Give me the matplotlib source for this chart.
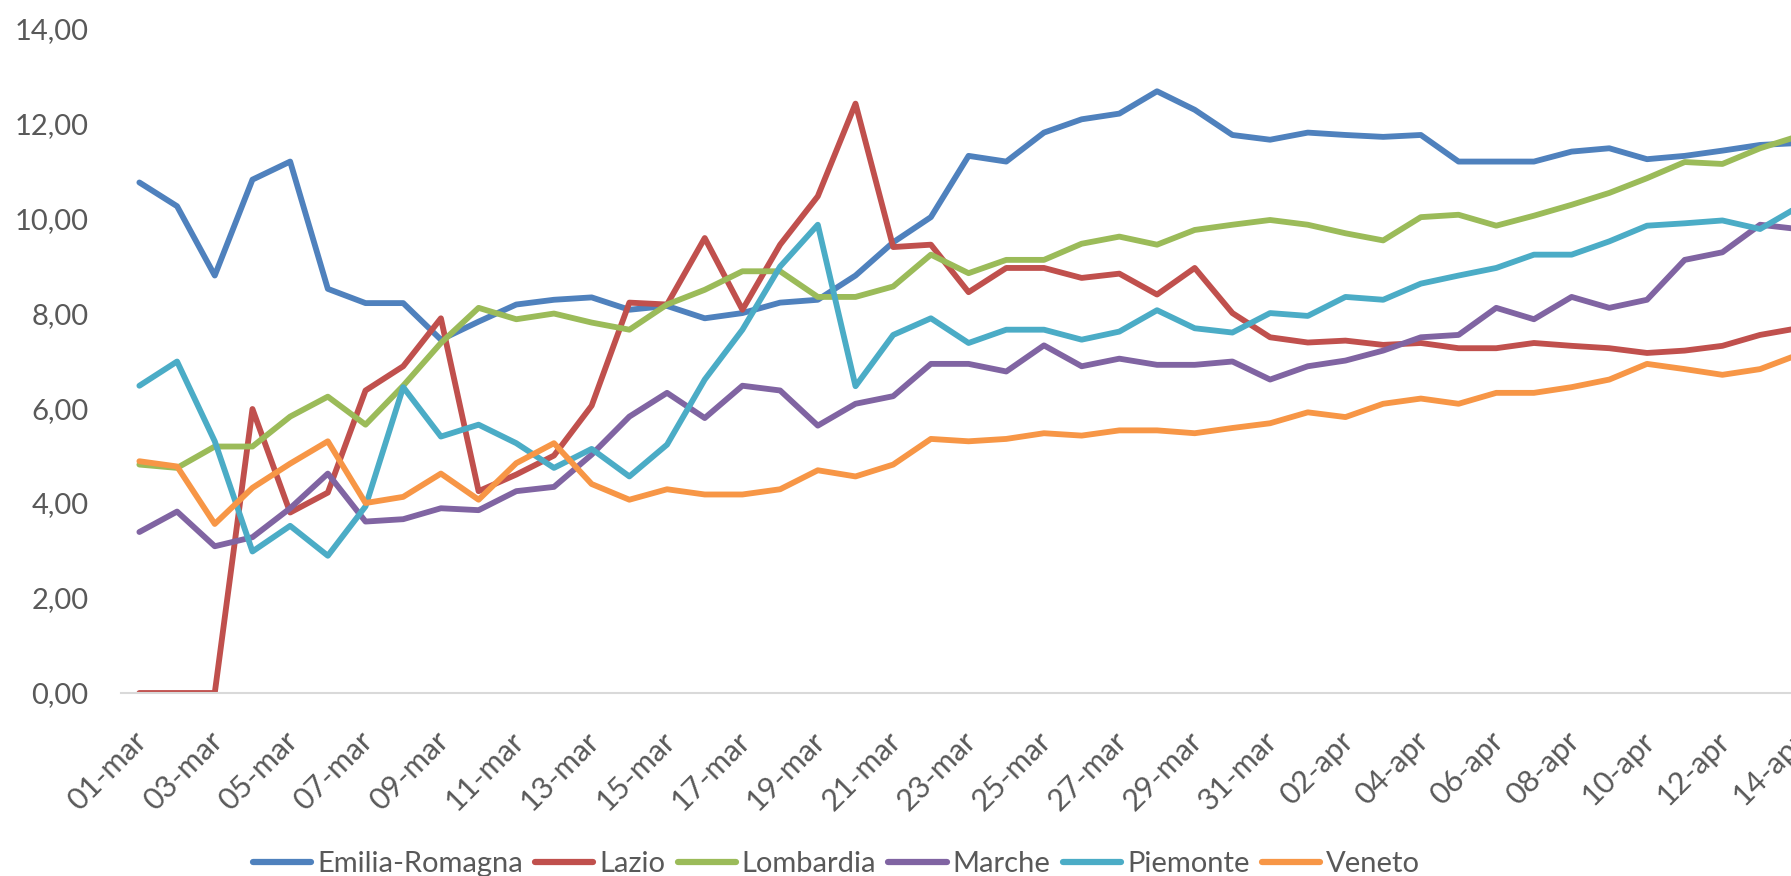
import numpy as np
import pandas as pd
import matplotlib
matplotlib.use("Agg")
import matplotlib.pyplot as plt
from matplotlib.ticker import FuncFormatter
from matplotlib.transforms import ScaledTranslation

plt.rcParams['font.family'] = ['Lato', 'DejaVu Sans']

# categories: 01-mar .. 14-apr (one point per day)
days = pd.date_range('2020-03-01', '2020-04-14', freq='D')
month_it = {3: 'mar', 4: 'apr'}
day_labels = [f"{d.day:02d}-{month_it[d.month]}" for d in days]

emilia = [10.75, 10.25, 8.79, 10.81, 11.19, 8.51, 8.21, 8.21, 7.44, 7.82,
          8.18, 8.28, 8.33, 8.07, 8.15, 7.89, 8.00, 8.22, 8.28, 8.79,
          9.49, 10.02, 11.31, 11.19, 11.80, 12.08, 12.20, 12.67, 12.28, 11.75,
          11.65, 11.80, 11.75, 11.71, 11.75, 11.19, 11.19, 11.19, 11.40, 11.47,
          11.24, 11.31, 11.42, 11.54, 11.58]
lazio = [0.00, 0.00, 0.00, 5.98, 3.80, 4.22, 6.37, 6.88, 7.89, 4.25,
         4.60, 5.00, 6.05, 8.22, 8.18, 9.58, 8.07, 9.44, 10.46, 12.41,
         9.39, 9.44, 8.44, 8.95, 8.95, 8.74, 8.83, 8.39, 8.95, 8.00,
         7.49, 7.38, 7.42, 7.33, 7.37, 7.26, 7.26, 7.37, 7.31, 7.26,
         7.16, 7.21, 7.31, 7.54, 7.68]
lombardia = [4.81, 4.74, 5.19, 5.19, 5.82, 6.24, 5.65, 6.47, 7.37, 8.11,
             7.87, 7.99, 7.80, 7.65, 8.18, 8.49, 8.88, 8.88, 8.34, 8.34,
             8.56, 9.23, 8.84, 9.12, 9.12, 9.46, 9.61, 9.44, 9.75, 9.86,
             9.96, 9.86, 9.68, 9.53, 10.02, 10.07, 9.84, 10.05, 10.28, 10.53,
             10.84, 11.18, 11.14, 11.47, 11.72]
marche = [3.39, 3.82, 3.09, 3.28, 3.89, 4.62, 3.61, 3.66, 3.89, 3.85,
          4.25, 4.34, 5.02, 5.82, 6.32, 5.79, 6.47, 6.37, 5.63, 6.09,
          6.25, 6.93, 6.93, 6.77, 7.32, 6.88, 7.04, 6.91, 6.91, 6.98,
          6.60, 6.88, 7.00, 7.21, 7.49, 7.54, 8.11, 7.87, 8.34, 8.11,
          8.28, 9.12, 9.28, 9.86, 9.77]
piemonte = [6.47, 6.98, 5.30, 2.98, 3.52, 2.89, 3.93, 6.44, 5.40, 5.65,
            5.26, 4.74, 5.14, 4.56, 5.23, 6.60, 7.65, 8.98, 9.86, 6.46,
            7.54, 7.89, 7.37, 7.65, 7.65, 7.44, 7.61, 8.06, 7.68, 7.59,
            8.00, 7.94, 8.34, 8.28, 8.62, 8.79, 8.95, 9.23, 9.23, 9.51,
            9.84, 9.89, 9.95, 9.77, 10.23]
veneto = [4.88, 4.77, 3.56, 4.32, 4.83, 5.30, 4.00, 4.13, 4.62, 4.07,
          4.84, 5.26, 4.40, 4.07, 4.29, 4.18, 4.18, 4.29, 4.69, 4.56,
          4.81, 5.35, 5.30, 5.35, 5.47, 5.42, 5.53, 5.53, 5.47, 5.58,
          5.68, 5.91, 5.81, 6.09, 6.20, 6.09, 6.32, 6.32, 6.44, 6.60,
          6.93, 6.82, 6.70, 6.82, 7.12]

series = [
    ("Emilia-Romagna", emilia, "#4F81BD"),
    ("Lazio", lazio, "#C0504D"),
    ("Lombardia", lombardia, "#9BBB59"),
    ("Marche", marche, "#8064A2"),
    ("Piemonte", piemonte, "#4BACC6"),
    ("Veneto", veneto, "#F79646"),
]

fig = plt.figure(figsize=(17.91, 8.76), dpi=100)
# plot area runs a little past the right edge, like the cropped original
ax = fig.add_axes([0.0673, 0.2089, 0.947, 0.759])

x = np.arange(len(day_labels))
for name, vals, col in series:
    ax.plot(x, vals, color=col, lw=4.2, label=name,
            solid_joinstyle='round', solid_capstyle='round')

ax.set_xlim(-0.5, len(day_labels) - 0.5)
ax.set_ylim(0, 14)
ax.set_yticks(np.arange(0, 15, 2))
ax.yaxis.set_major_formatter(FuncFormatter(lambda v, p: f"{v:.2f}".replace('.', ',')))

ax.set_xticks(x[::2])
ax.set_xticklabels(day_labels[::2], rotation=45, ha='right', va='center',
                   rotation_mode='anchor')

ax.tick_params(axis='both', length=0, colors='#595959')
ax.tick_params(axis='y', pad=23, labelsize=21)
ax.tick_params(axis='x', pad=31, labelsize=22)

shift = ScaledTranslation(0.03, 0, fig.dpi_scale_trans)
for lab in ax.get_xticklabels():
    lab.set_transform(lab.get_transform() + shift)

for s in ['top', 'right', 'left']:
    ax.spines[s].set_visible(False)
ax.spines['bottom'].set_color('#D9D9D9')
ax.spines['bottom'].set_linewidth(1.5)

leg = fig.legend(loc='center', bbox_to_anchor=(0.467, 0.014), ncol=6,
                 frameon=False, fontsize=21, handlelength=2.0,
                 handletextpad=0.2, columnspacing=0.42)
for t in leg.get_texts():
    t.set_color('#595959')
for h in leg.get_lines():
    h.set_linewidth(4.5)

fig.savefig('out.png', dpi=100)
